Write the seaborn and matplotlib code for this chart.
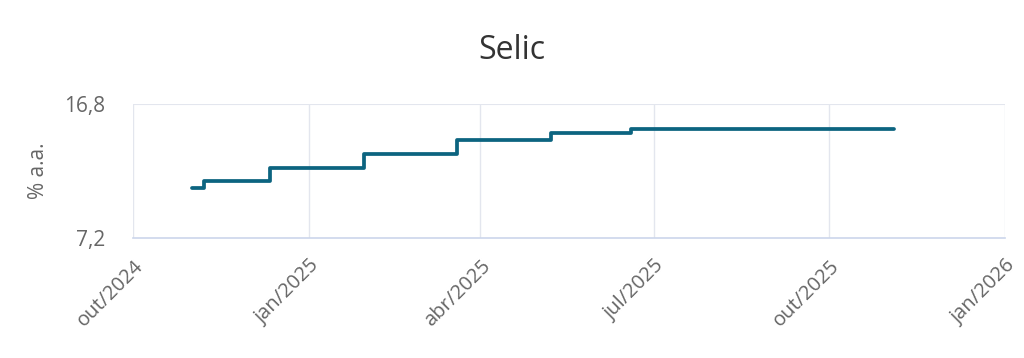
import pandas as pd
import numpy as np
import matplotlib
matplotlib.use('Agg')
import matplotlib.pyplot as plt
import matplotlib.dates as mdates
import seaborn as sb

# selic rate changes (date the new rate takes effect)
change_dates = ['2024-11-01', '2024-11-07', '2024-12-12', '2025-01-30',
                '2025-03-20', '2025-05-08', '2025-06-19', '2025-11-04']
rates = [10.75, 11.25, 12.25, 13.25, 14.25, 14.75, 15.00, 15.00]

tick_dates = ['2024-10-01', '2025-01-01', '2025-04-01', '2025-07-01', '2025-10-01', '2026-01-01']
tick_labels = ['out/2024', 'jan/2025', 'abr/2025', 'jul/2025', 'out/2025', 'jan/2026']
y_ticks = [7.2, 16.8]
y_tick_labels = ['7,2', '16,8']

df = pd.DataFrame({'data': pd.to_datetime(change_dates), 'selic': rates})

sb.set_style('white')
plt.rcParams['font.family'] = ['Open Sans', 'DejaVu Sans']

fig = plt.figure(figsize=(10.24, 3.58), dpi=100)
ax = fig.add_axes([133 / 1024, 1 - 238 / 358, 872 / 1024, 134 / 358])

sb.lineplot(x='data', y='selic', data=df, ax=ax, color='#0c6480',
            linewidth=2.7, drawstyle='steps-post')

ticks = pd.to_datetime(tick_dates)
ax.set_xlim(ticks[0], ticks[-1])
ax.set_ylim(7.2, 16.8)

# grid lines
for t in ticks:
    ax.axvline(t, color='#e3e6ee', linewidth=1, zorder=0)
ax.axhline(16.8, color='#e3e6ee', linewidth=1.5, zorder=0)

for side in ['top', 'right', 'left']:
    ax.spines[side].set_visible(False)
ax.spines['bottom'].set_color('#ccd6eb')
ax.spines['bottom'].set_linewidth(1.2)

ax.set_xticks(ticks)
ax.set_xticklabels(tick_labels, rotation=45, ha='right', rotation_mode='anchor',
                   fontsize=14.5, color='#666666')
ax.tick_params(axis='x', length=12, width=1, color='#ccd6eb', pad=1)

ax.set_yticks(y_ticks)
ax.set_yticklabels(y_tick_labels, fontsize=15, color='#666666')
ax.tick_params(axis='y', length=0, pad=20)

ax.set_xlabel('')
ax.set_ylabel('% a.a.', fontsize=15, color='#666666', labelpad=11)

fig.suptitle('Selic', fontsize=23, color='#333333', y=0.905)

fig.savefig('out.png', dpi=100)
